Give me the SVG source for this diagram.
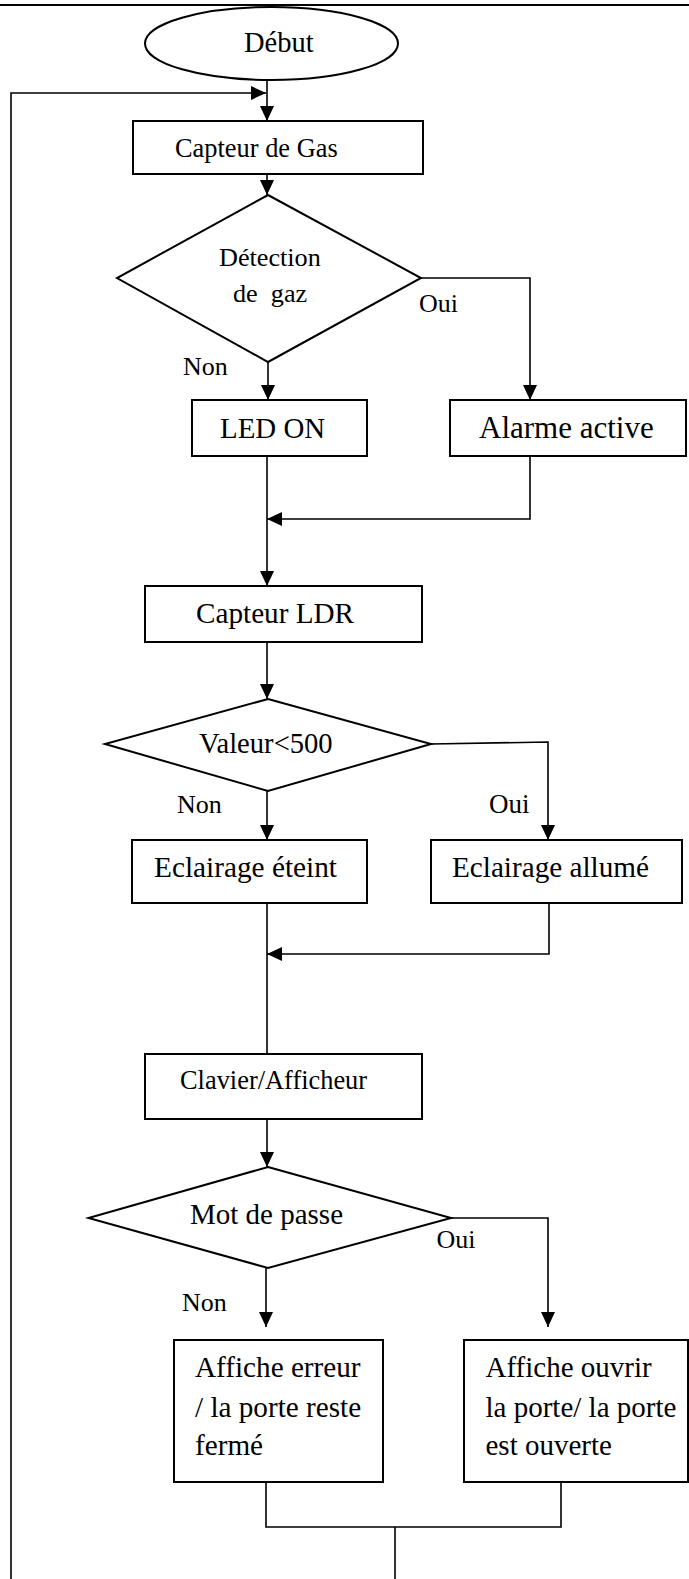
<svg xmlns="http://www.w3.org/2000/svg" width="689" height="1579" viewBox="0 0 689 1579">
  <style>
    .shape { fill: #ffffff; stroke: #000000; stroke-width: 2; }
    .conn { fill: none; stroke: #000000; stroke-width: 1.6; }
    .arrow { marker-end: url(#head); }
    text { font-family: "Liberation Serif", "Times New Roman", serif; fill: #000000; }
  </style>
  <defs>
    <marker id="head" viewBox="0 0 15 14" refX="15" refY="7" markerWidth="15" markerHeight="14" markerUnits="userSpaceOnUse" orient="auto">
      <path d="M0,0 L15,7 L0,14 z" fill="#000000"/>
    </marker>
  </defs>

  <rect width="689" height="1579" fill="#ffffff"/>
  <!-- page rule -->
  <line x1="0" y1="5" x2="689" y2="5" stroke="#000000" stroke-width="2"/>

  <g id="connectors">
    <line class="conn arrow" x1="267" y1="80" x2="267" y2="121"/>
    <path class="conn arrow" d="M11,1579 V93 H266"/>
    <line class="conn arrow" x1="267" y1="174" x2="267" y2="195"/>
    <line class="conn arrow" x1="268" y1="362" x2="268" y2="400"/>
    <path class="conn arrow" d="M421,278 H530 V400"/>
    <line class="conn arrow" x1="267" y1="456" x2="267" y2="586"/>
    <path class="conn arrow" d="M530,456 V519 H267"/>
    <line class="conn arrow" x1="267" y1="642" x2="267" y2="699"/>
    <line class="conn arrow" x1="267" y1="791" x2="267" y2="840"/>
    <path class="conn arrow" d="M431,744 L548,742 V840"/>
    <line class="conn" x1="267" y1="903" x2="267" y2="1054"/>
    <path class="conn arrow" d="M549,903 V954 H267"/>
    <line class="conn arrow" x1="267" y1="1119" x2="267" y2="1167"/>
    <line class="conn arrow" x1="266" y1="1268" x2="266" y2="1327"/>
    <path class="conn arrow" d="M451,1218 H548 V1327"/>
    <path class="conn" d="M266,1482 V1527 H561 V1482"/>
    <line class="conn" x1="395" y1="1527" x2="395" y2="1579"/>
  </g>

  <g id="debut">
    <ellipse class="shape" cx="271.5" cy="43.5" rx="126.5" ry="36.5"/>
    <text x="244" y="52" font-size="28.5">Début</text>
  </g>

  <g id="capteur-gas">
    <rect class="shape" x="133" y="121" width="290" height="53"/>
    <text x="175" y="157" font-size="26.4">Capteur de Gas</text>
  </g>

  <g id="detection-gaz">
    <polygon class="shape" points="268,195 421,278 268,362 117,278"/>
    <text x="219" y="266" font-size="26.2">Détection</text>
    <text x="233" y="302" font-size="26.2" xml:space="preserve">de  gaz</text>
  </g>

  <g id="led-on">
    <rect class="shape" x="192" y="400" width="175" height="56"/>
    <text x="220" y="438" font-size="28.9">LED ON</text>
  </g>

  <g id="alarme-active">
    <rect class="shape" x="450" y="400" width="236" height="56"/>
    <text x="479" y="438" font-size="31">Alarme active</text>
  </g>

  <g id="capteur-ldr">
    <rect class="shape" x="145" y="586" width="277" height="56"/>
    <text x="196" y="623" font-size="29.2">Capteur LDR</text>
  </g>

  <g id="valeur">
    <polygon class="shape" points="268,699 431,744 268,791 105,744"/>
    <text x="199" y="753" font-size="28.6">Valeur&lt;500</text>
  </g>

  <g id="eclairage-eteint">
    <rect class="shape" x="132" y="840" width="235" height="63"/>
    <text x="154" y="877" font-size="29.3">Eclairage éteint</text>
  </g>

  <g id="eclairage-allume">
    <rect class="shape" x="431" y="840" width="251" height="63"/>
    <text x="452" y="877" font-size="29.2">Eclairage allumé</text>
  </g>

  <g id="clavier-afficheur">
    <rect class="shape" x="145" y="1054" width="277" height="65"/>
    <text x="180" y="1089" font-size="26.4">Clavier/Afficheur</text>
  </g>

  <g id="mot-de-passe">
    <polygon class="shape" points="268,1167 451,1218 268,1268 88.5,1218"/>
    <text x="190" y="1224" font-size="29">Mot de passe</text>
  </g>

  <g id="affiche-erreur">
    <rect class="shape" x="174" y="1340" width="209" height="142"/>
    <text x="195" y="1377" font-size="29.2">Affiche erreur</text>
    <text x="195" y="1417" font-size="29.2">/ la porte reste</text>
    <text x="195" y="1455" font-size="29.2">fermé</text>
  </g>

  <g id="affiche-ouvrir">
    <rect class="shape" x="464" y="1340" width="224" height="142"/>
    <text x="485.5" y="1377" font-size="29">Affiche ouvrir</text>
    <text x="485.5" y="1417" font-size="29">la porte/ la porte</text>
    <text x="485.5" y="1455" font-size="29">est ouverte</text>
  </g>

  <g id="labels">
    <text x="419" y="312" font-size="26">Oui</text>
    <text x="183" y="375" font-size="26">Non</text>
    <text x="177" y="813" font-size="26">Non</text>
    <text x="489" y="813" font-size="27">Oui</text>
    <text x="436.5" y="1248" font-size="26">Oui</text>
    <text x="182" y="1311" font-size="26">Non</text>
  </g>
</svg>
